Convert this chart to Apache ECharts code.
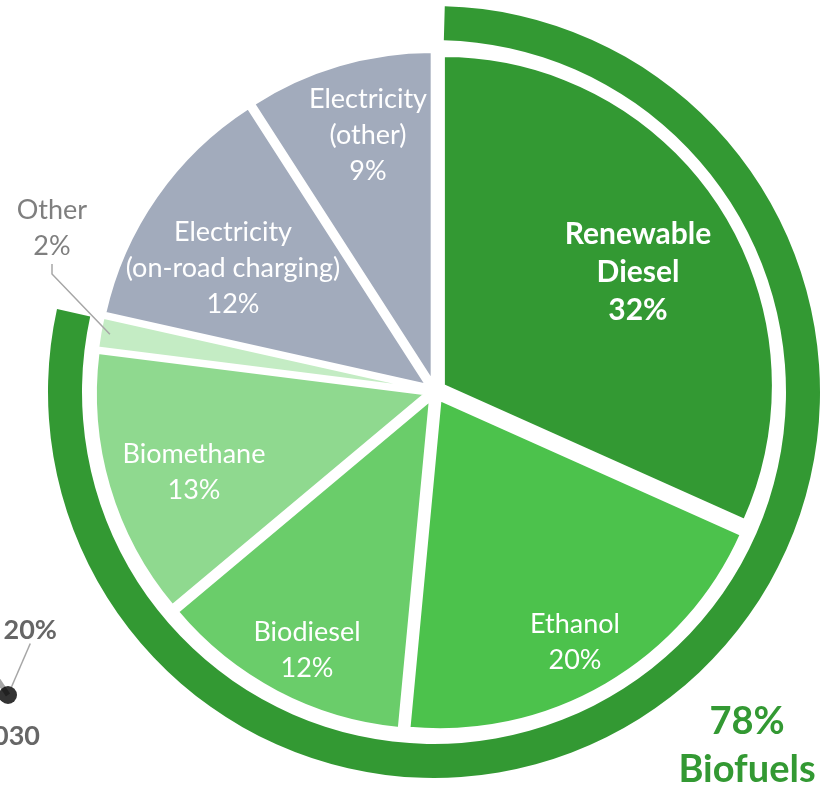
<!DOCTYPE html>
<html>
<head>
<meta charset="utf-8">
<script src="https://cdn.jsdelivr.net/npm/echarts@6/dist/echarts.min.js"></script>
<style>
html,body{margin:0;padding:0;background:#fff;}
#chart{width:823px;height:791px;}
</style>
</head>
<body>
<div id="chart"></div>
<script>
// ---- data (shares; labels show rounded %) ----
var categories = ['Renewable\nDiesel', 'Ethanol', 'Biodiesel', 'Biomethane', 'Other', 'Electricity\n(on-road charging)', 'Electricity\n(other)'];
var shares = [31.7, 19.8, 12.4, 13.1, 1.5, 12.4, 9.1];
var ringCategories = ['Biofuels', 'Rest'];
var ringShares = [78, 22];
var fragmentYears = [2029.5, 2030];
var fragmentValues = [35, 20];

// ---- styles ----
var FONT = 'Lato, "Open Sans", sans-serif';
var sliceColors = ['#339933', '#4cc24c', '#6acd6a', '#8fd98f', '#c4ecc4', '#a2abbc', '#a2abbc'];
var labelPos = [[638, 272], [575, 642], [307, 650], [194, 472], [52, 228], [233, 268], [368, 135]];
var CX = 435, CY = 391, R = 330;

var sliceLayout = function (p) {
  var pos = labelPos[p.dataIndex];
  return { x: pos[0], y: pos[1], align: 'center', verticalAlign: 'middle' };
};

var chart = echarts.init(document.getElementById('chart'), null, { renderer: 'canvas' });
chart.setOption({
  backgroundColor: '#ffffff',
  animation: false,
  grid: { left: 0, top: 655, width: 400, height: 80, show: false },
  xAxis: { type: 'value', min: 2029.8, max: 2039.8, show: false },
  yAxis: { type: 'value', min: 0, max: 40, show: false },
  series: [
    // outer "Biofuels" ring
    {
      type: 'pie',
      center: [434, 392],
      radius: [352, 386],
      startAngle: 88.4,
      clockwise: true,
      silent: true,
      z: 1,
      label: { show: false },
      labelLine: { show: false },
      data: ringCategories.map(function (c, i) {
        return { name: c, value: ringShares[i], itemStyle: { color: i === 0 ? '#339933' : 'rgba(0,0,0,0)' } };
      })
    },
    // exploded pie slices
    {
      type: 'pie',
      center: [CX, CY],
      radius: [0, R],
      startAngle: 90,
      clockwise: true,
      silent: true,
      z: 2,
      selectedMode: 'multiple',
      selectedOffset: 10,
      itemStyle: { borderColor: '#ffffff', borderWidth: 3 },
      label: { show: false },
      labelLine: { show: false },
      data: categories.map(function (c, i) {
        return { name: c, value: shares[i], selected: true, itemStyle: { color: sliceColors[i] } };
      })
    },
    // label layer (same layout, invisible sectors)
    {
      type: 'pie',
      center: [CX, CY],
      radius: [0, R],
      startAngle: 90,
      clockwise: true,
      silent: true,
      z: 10,
      zlevel: 1,
      avoidLabelOverlap: false,
      itemStyle: { color: 'rgba(0,0,0,0)', borderWidth: 0 },
      label: {
        show: true,
        position: 'inside',
        formatter: function (p) { return p.name + '\n' + Math.round(p.value) + '%'; },
        color: '#ffffff',
        fontFamily: FONT,
        fontSize: 27,
        lineHeight: 36,
        align: 'center'
      },
      labelLine: { show: false },
      labelLayout: sliceLayout,
      data: categories.map(function (c, i) {
        var item = { name: c, value: shares[i] };
        if (i === 0) item.label = { fontWeight: 'bold', fontSize: 30, lineHeight: 38 };
        if (i === 4) {
          item.label = { position: 'outside', color: '#7f7f7f' };
          item.labelLine = { show: true, length: 20, length2: 10, lineStyle: { color: '#a6a6a6', width: 1.5 } };
        }
        return item;
      })
    },
    // cropped fragment of a neighbouring chart (bottom-left)
    {
      type: 'line',
      data: fragmentYears.map(function (y, i) { return [y, fragmentValues[i]]; }),
      symbol: 'none',
      clip: false,
      lineStyle: { color: '#a6a6a6', width: 5 },
      silent: true,
      z: 1
    },
    {
      type: 'scatter',
      data: [[fragmentYears[1], fragmentValues[1]]],
      symbolSize: 18,
      clip: false,
      itemStyle: { color: '#000000' },
      label: {
        show: true,
        formatter: function (p) { return p.value[1] + '%'; },
        color: '#404040',
        fontFamily: FONT,
        fontWeight: 'bold',
        fontSize: 27
      },
      labelLine: { show: true, lineStyle: { color: '#a6a6a6', width: 1.5 } },
      labelLayout: { x: 57, y: 630, align: 'right', verticalAlign: 'middle' },
      z: 3
    },
    {
      type: 'scatter',
      data: [[fragmentYears[1], fragmentValues[1]]],
      symbolSize: 1,
      clip: false,
      itemStyle: { color: 'rgba(0,0,0,0)' },
      label: {
        show: true,
        formatter: function (p) { return String(p.value[0]); },
        color: '#404040',
        fontFamily: FONT,
        fontWeight: 'bold',
        fontSize: 27
      },
      labelLayout: { x: 40, y: 736, align: 'right', verticalAlign: 'middle' },
      z: 3
    }
  ],
  graphic: [
    {
      type: 'text',
      style: {
        text: ringShares[0] + '%',
        x: 747, y: 722,
        fill: '#339933',
        font: 'bold 38px ' + FONT,
        align: 'center',
        verticalAlign: 'middle'
      }
    },
    {
      type: 'text',
      style: {
        text: ringCategories[0],
        x: 747, y: 770,
        fill: '#339933',
        font: 'bold 38px ' + FONT,
        align: 'center',
        verticalAlign: 'middle'
      }
    }
  ]
});
</script>
</body>
</html>
